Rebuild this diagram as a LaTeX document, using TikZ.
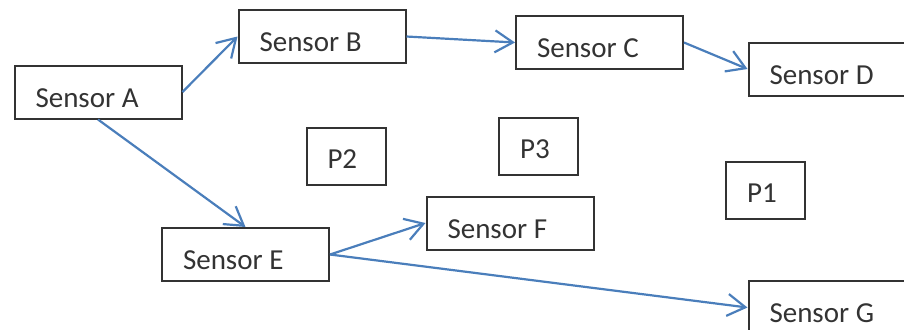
\documentclass[tikz,border=0pt]{standalone}
\usepackage{fontspec}
\setmainfont{Carlito}
\usetikzlibrary{arrows.meta}
\definecolor{linkblue}{HTML}{4A7EBB}
\definecolor{boxgray}{HTML}{333333}
\tikzset{
  sensor/.style={draw=boxgray,line width=1pt,text=boxgray,font=\fontsize{14.5}{16}\selectfont,
    minimum width=83.5pt,minimum height=26.5pt,inner xsep=10.5pt,inner ysep=0pt,
    text width=62.5pt,align=left,text height=15pt,text depth=0pt,
    execute at begin node={\spaceskip=0pt\xspaceskip=0pt}},
  place/.style={sensor,minimum width=39.5pt,minimum height=28.5pt,text width=18.5pt,text height=12.5pt},
  link/.style={linkblue,line width=1.1pt,-{Straight Barb[length=9pt,width=11pt,line width=1.1pt]}}
}
\begin{document}
\begin{tikzpicture}[x=0.5pt,y=-0.5pt]
\useasboundingbox (0,0) rectangle (904,329);
%\draw[help lines,step=50] (0,0) grid (904,329);

\node[sensor] (sa) at (98,92) {Sensor A};
\node[sensor] (sb) at (322,36.5) {Sensor B};
\node[sensor] (sc) at (599.5,42.5) {Sensor C};
\node[sensor] (sd) at (832,69) {Sensor D};
\node[sensor] (se) at (245.5,254.5) {Sensor E};
\node[sensor] (sf) at (510,223) {Sensor F};
\node[sensor] (sg) at (832,307.5) {Sensor G};

\node[place] (p2) at (346,156) {P2};
\node[place] (p3) at (538.5,146) {P3};
\node[place] (p1) at (765.5,190) {P1};

\draw[link] (sa.east)--(sb.west);
\draw[link] (sa.south)--(se.north);
\draw[link] (sb.east)--(sc.west);
\draw[link] (sc.east)--(sd.west);
\draw[link] (se.east)--(sf.west);
\draw[link] (se.east)--(sg.west);
\end{tikzpicture}
\end{document}
